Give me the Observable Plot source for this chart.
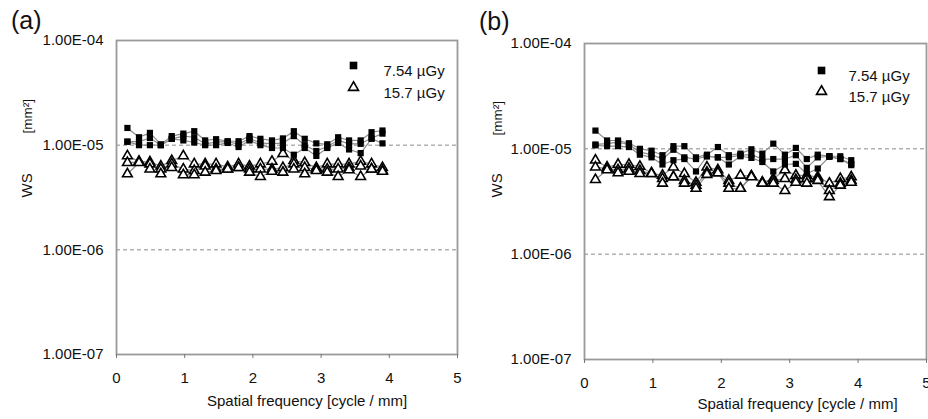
<!DOCTYPE html>
<html><head><meta charset="utf-8">
<script src="https://cdn.jsdelivr.net/npm/d3@7"></script>
<script src="https://cdn.jsdelivr.net/npm/@observablehq/plot@0.6"></script>
<style>
body{margin:0;background:#fff}
#wrap{position:relative;width:928px;height:419px;overflow:hidden}
.panel{position:absolute;top:0}
.lab{position:absolute;font:25px "Liberation Sans",Arial,sans-serif;color:#111}
</style>
</head><body><div id="wrap"></div>
<script>
// Spatial frequency [cycle / mm]
const freq = [0.16,0.33,0.49,0.65,0.81,0.98,1.14,1.30,1.46,1.63,1.79,1.95,2.11,2.28,2.44,2.60,2.76,2.93,3.09,3.25,3.41,3.58,3.74,3.90];
// WS values, in units of 1e-5 mm^2
const UNIT = 1e-5;
const doses = ["7.54 µGy", "15.7 µGy"];
const yTicks = [1e-7, 1e-6, 1e-5, 1e-4];
const xTicks = [0, 1, 2, 3, 4, 5];
const gridLevels = [1e-6, 1e-5];

// Panel (a)
const a754_1 = [1.46,1.19,1.31,1.02,1.22,1.29,1.36,1.11,1.14,1.09,1.09,1.22,1.15,1.11,1.16,1.36,1.15,1.04,1.02,1.19,1.11,1.11,1.33,1.38];
const a754_2 = [1.08,1.08,1.17,1.00,1.15,1.22,1.19,1.03,1.07,1.08,1.02,1.16,1.05,1.03,1.05,1.22,1.00,0.88,0.97,1.11,1.03,1.03,1.17,1.29];
const a754_3 = [1.08,1.00,1.00,1.00,1.15,1.11,1.06,1.00,1.00,1.05,0.96,1.11,1.00,0.94,0.94,0.81,0.94,0.79,0.94,1.05,0.91,0.84,1.15,1.04];
const a157_1 = [0.79,0.70,0.69,0.63,0.71,0.79,0.66,0.66,0.66,0.62,0.66,0.63,0.66,0.70,0.83,0.71,0.68,0.61,0.66,0.66,0.66,0.70,0.66,0.61];
const a157_2 = [0.68,0.69,0.66,0.59,0.66,0.59,0.57,0.63,0.59,0.59,0.61,0.59,0.59,0.59,0.61,0.66,0.61,0.59,0.59,0.59,0.61,0.63,0.59,0.57];
const a157_3 = [0.53,0.68,0.59,0.53,0.61,0.52,0.52,0.55,0.57,0.59,0.61,0.55,0.50,0.56,0.55,0.59,0.53,0.57,0.55,0.50,0.58,0.50,0.59,0.56];

// Panel (b)
const b754_1 = [1.49,1.20,1.20,1.13,1.00,0.96,0.87,1.06,1.06,0.83,0.88,1.04,0.87,0.90,0.99,0.90,1.12,0.88,1.02,0.80,0.88,0.85,0.85,0.78];
const b754_2 = [1.10,1.12,1.16,1.10,0.93,0.88,0.80,0.98,0.83,0.80,0.85,0.83,0.83,0.87,0.88,0.80,0.80,0.80,0.87,0.66,0.83,0.85,0.80,0.72];
const b754_3 = [1.08,1.06,1.06,1.04,0.88,0.83,0.71,0.78,0.80,0.61,0.85,0.83,0.71,0.85,0.82,0.75,0.61,0.71,0.72,0.58,0.65,0.84,0.80,0.70];
const b157_1 = [0.78,0.67,0.71,0.71,0.68,0.59,0.56,0.67,0.58,0.48,0.67,0.63,0.50,0.56,0.55,0.48,0.52,0.63,0.56,0.56,0.54,0.47,0.52,0.54];
const b157_2 = [0.67,0.65,0.63,0.65,0.62,0.58,0.52,0.54,0.50,0.45,0.60,0.59,0.47,0.42,0.55,0.48,0.50,0.52,0.51,0.52,0.52,0.40,0.47,0.50];
const b157_3 = [0.51,0.63,0.59,0.61,0.58,0.58,0.47,0.54,0.47,0.42,0.57,0.59,0.42,0.42,0.54,0.47,0.47,0.40,0.48,0.47,0.50,0.35,0.45,0.48];

function table(groups) {
  const rows = [];
  groups.forEach(([dose, arrs]) => arrs.forEach((arr, k) => arr.forEach((v, i) =>
    rows.push({f: freq[i], ws: v * UNIT, dose, line: dose + "-" + k}))));
  return rows;
}
const dataA = table([[doses[0], [a754_1, a754_2, a754_3]], [doses[1], [a157_1, a157_2, a157_3]]]);
const dataB = table([[doses[0], [b754_1, b754_2, b754_3]], [doses[1], [b157_1, b157_2, b157_3]]]);

const FONT = '"Liberation Sans", Arial, sans-serif';
const fmt = d => "1.00E-" + String(Math.round(-Math.log10(d))).padStart(2, "0");

function panel(data, o) {
  return Plot.plot({
    width: o.width, height: 419,
    marginLeft: o.ml, marginRight: o.mr, marginTop: o.mt, marginBottom: o.mb,
    style: {fontFamily: FONT, fontSize: "15px", color: "#111", background: "transparent"},
    x: {domain: [0, 5]},
    y: {type: "log", domain: [1e-7, 1e-4]},
    marks: [
      Plot.ruleY(gridLevels, {stroke: "#8a8a8a", strokeWidth: 1, strokeDasharray: "4,3"}),
      Plot.frame({stroke: "#9a9a9a", strokeWidth: 1.8}),
      Plot.axisX({ticks: xTicks, tickFormat: d => String(d), tickSize: 4, tickPadding: 14, stroke: "#777", label: null}),
      Plot.axisY({ticks: yTicks, tickFormat: fmt, tickSize: 0, tickPadding: 13, label: null}),
      Plot.line(data, {x: "f", y: "ws", z: "line", stroke: "#8c8c8c", strokeWidth: 1.2}),
      Plot.dot(data.filter(d => d.dose === doses[1]), {x: "f", y: "ws", symbol: "triangle", r: 3.6, fill: "white", stroke: "black", strokeWidth: 1.6}),
      Plot.dot(data.filter(d => d.dose === doses[0]), {x: "f", y: "ws", symbol: "square", r: 3.5, fill: "black"}),
      // legend
      Plot.dot([doses[0]], {frameAnchor: "top-right", dx: o.legDx, dy: o.legDy1, symbol: "square", r: 4.3, fill: "black"}),
      Plot.dot([doses[1]], {frameAnchor: "top-right", dx: o.legDx, dy: o.legDy2, symbol: "triangle", r: 3.7, fill: "white", stroke: "black", strokeWidth: 1.6}),
      Plot.text([doses[0]], {frameAnchor: "top-right", dx: o.legTx, dy: o.legDy1, text: d => d, textAnchor: "start", fontSize: 15}),
      Plot.text([doses[1]], {frameAnchor: "top-right", dx: o.legTx, dy: o.legDy2, text: d => d, textAnchor: "start", fontSize: 15}),
      // axis titles
      Plot.text(["WS"], {frameAnchor: "left", dx: o.ytDx, dy: o.wsDy, rotate: -90, text: d => d, fontSize: 15}),
      Plot.text(["[mm²]"], {frameAnchor: "left", dx: o.ytDx, dy: o.mmDy, rotate: -90, text: d => d, fontSize: 13.5}),
      Plot.text(["Spatial frequency [cycle / mm]"], {frameAnchor: "bottom", dx: o.xlDx, dy: o.xlDy, text: d => d, fontSize: 15})
    ]
  });
}

const wrap = document.getElementById("wrap");
const pa = panel(dataA, {width: 470, ml: 116, mr: 13, mt: 40, mb: 65,
  legDx: -104, legTx: -74, legDy1: 25, legDy2: 47, ytDx: -89, wsDy: 0, mmDy: -64, xlDx: 20, xlDy: 51});
pa.classList.add("panel"); pa.style.left = "0px";
const pb = panel(dataB, {width: 464, ml: 120, mr: 2, mt: 43, mb: 60,
  legDx: -105, legTx: -78, legDy1: 27, legDy2: 48, ytDx: -87, wsDy: -4, mmDy: -66, xlDx: 42, xlDy: 49});
pb.classList.add("panel"); pb.style.left = "464px";
wrap.appendChild(pa); wrap.appendChild(pb);

const la = document.createElement("div"); la.className = "lab"; la.textContent = "(a)";
la.style.left = "11px"; la.style.top = "6px"; wrap.appendChild(la);
const lb = document.createElement("div"); lb.className = "lab"; lb.textContent = "(b)";
lb.style.left = "479px"; lb.style.top = "7px"; wrap.appendChild(lb);
</script>
</body></html>
